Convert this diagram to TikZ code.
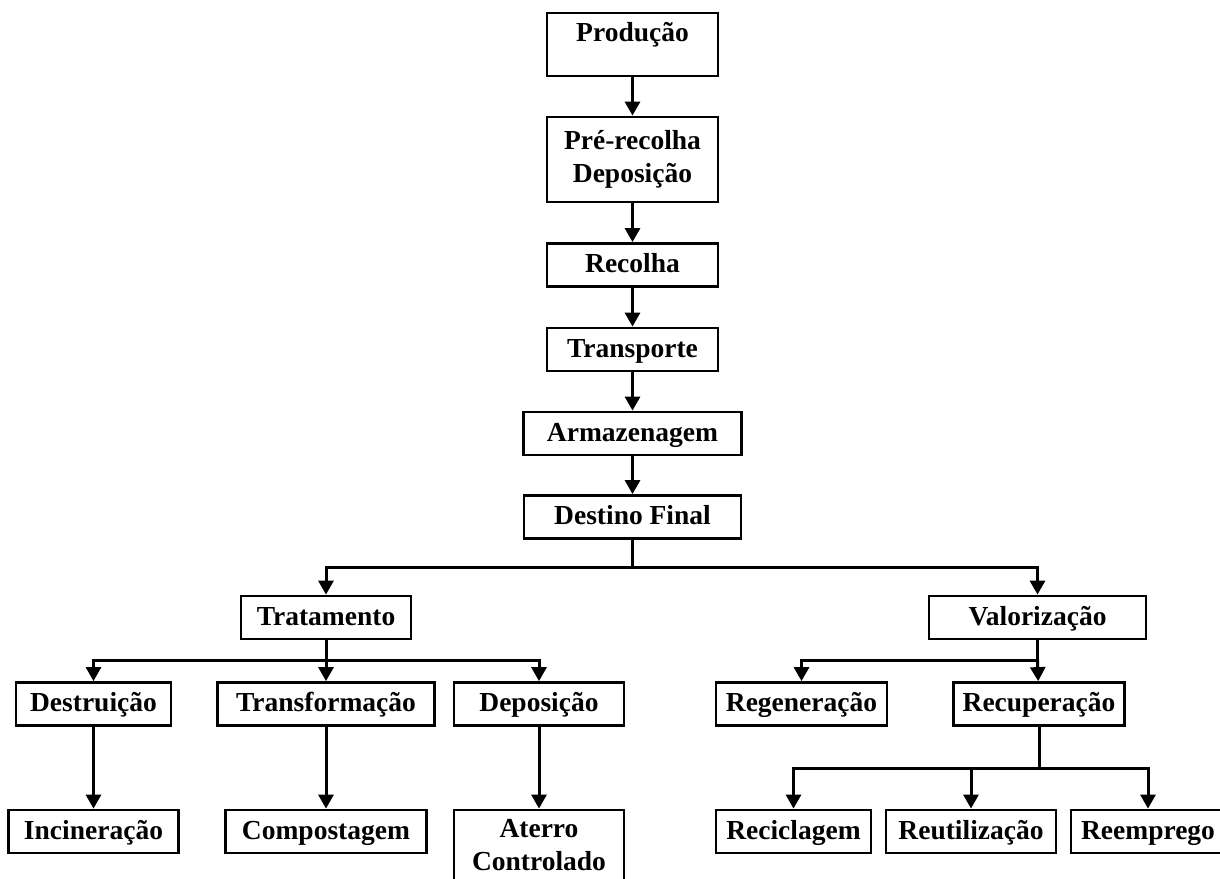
\documentclass[tikz,border=0pt]{standalone}
\usepackage{fontspec}
\setmainfont{Liberation Serif}
\usepackage{tikz}
\usetikzlibrary{arrows.meta,positioning}

\begin{document}
\begin{tikzpicture}[x=1pt, y=-1pt,
    box/.style={draw, line width=2.8pt, inner sep=0pt, minimum height=43pt,
                font=\fontsize{27.5}{33}\selectfont\bfseries,
                text height=21pt, text depth=6pt},
    tallbox/.style={draw, line width=2.8pt, inner sep=0pt,
                font=\fontsize{27.5}{33}\selectfont\bfseries, align=center},
    arr/.style={line width=3pt, -{Triangle[width=15pt,length=14pt]}},
    ln/.style={line width=3pt}]
  \useasboundingbox (0,0) rectangle (1220,878);
  % Main chain
  \node[box, minimum width=171pt, minimum height=63pt, text depth=27pt] (prod) at (632.5,44.5) {Produção};
  \node[tallbox, minimum width=171pt, minimum height=85pt] (prerec) at (632.5,159.5) {Pré-recolha\\Deposição};
  \node[box, minimum width=171pt] (recolha) at (632.5,265) {Recolha};
  \node[box, minimum width=171pt] (transp) at (632.5,349.5) {Transporte};
  \node[box, minimum width=218pt] (armaz) at (632.5,433.5) {Armazenagem};
  \node[box, minimum width=217pt] (destino) at (632.5,517) {Destino Final};
  \draw[arr] (prod) -- (prerec);
  \draw[arr] (prerec) -- (recolha);
  \draw[arr] (recolha) -- (transp);
  \draw[arr] (transp) -- (armaz);
  \draw[arr] (armaz) -- (destino);
  % Second level
  \node[box, minimum width=170pt] (trat) at (326,617.5) {Tratamento};
  \node[box, minimum width=217pt] (valor) at (1037.5,617.5) {Valorização};
  \coordinate (split1) at (632.5,567);
  \draw[ln] (destino) -- (split1);
  \draw[arr] (split1) -| (trat);
  \draw[arr] (split1) -| (valor);
  % Tratamento branch
  \node[box, minimum width=155pt] (destr) at (93.5,704) {Destruição};
  \node[box, minimum width=217pt] (transf) at (326,704) {Transformação};
  \node[box, minimum width=170pt] (depos) at (539,704) {Deposição};
  \coordinate (split2) at (326,660);
  \draw[ln] (trat) -- (split2);
  \draw[arr] (split2) -| (destr);
  \draw[arr] (split2) -- (transf);
  \draw[arr] (split2) -| (depos);
  \node[box, minimum width=170pt] (incin) at (93.5,831.5) {Incineração};
  \node[box, minimum width=201pt] (compost) at (326,831.5) {Compostagem};
  \node[tallbox, minimum width=170pt, minimum height=71pt] (aterro) at (539,845.5) {Aterro\\Controlado};
  \draw[arr] (destr) -- (incin);
  \draw[arr] (transf) -- (compost);
  \draw[arr] (depos) -- (aterro);
  % Valorizacao branch
  \node[box, minimum width=171pt] (regen) at (801.5,704) {Regeneração};
  \node[box, minimum width=171pt] (recup) at (1039,704) {Recuperação};
  \coordinate (split3) at (1037.5,660);
  \draw[ln] (valor) -- (split3);
  \draw[arr] (split3) -| (regen);
  \draw[arr] (split3) -- (recup);
  \node[box, minimum width=155pt] (recicl) at (793.5,831.5) {Reciclagem};
  \node[box, minimum width=170pt] (reutil) at (971,831.5) {Reutilização};
  \node[box, minimum width=154pt] (reempr) at (1148,831.5) {Reemprego};
  \coordinate (split4) at (1039,768);
  \draw[ln] (recup) -- (split4);
  \draw[arr] (split4) -| (recicl);
  \draw[arr] (split4) -| (reutil);
  \draw[arr] (split4) -| (reempr);
\end{tikzpicture}
\end{document}
